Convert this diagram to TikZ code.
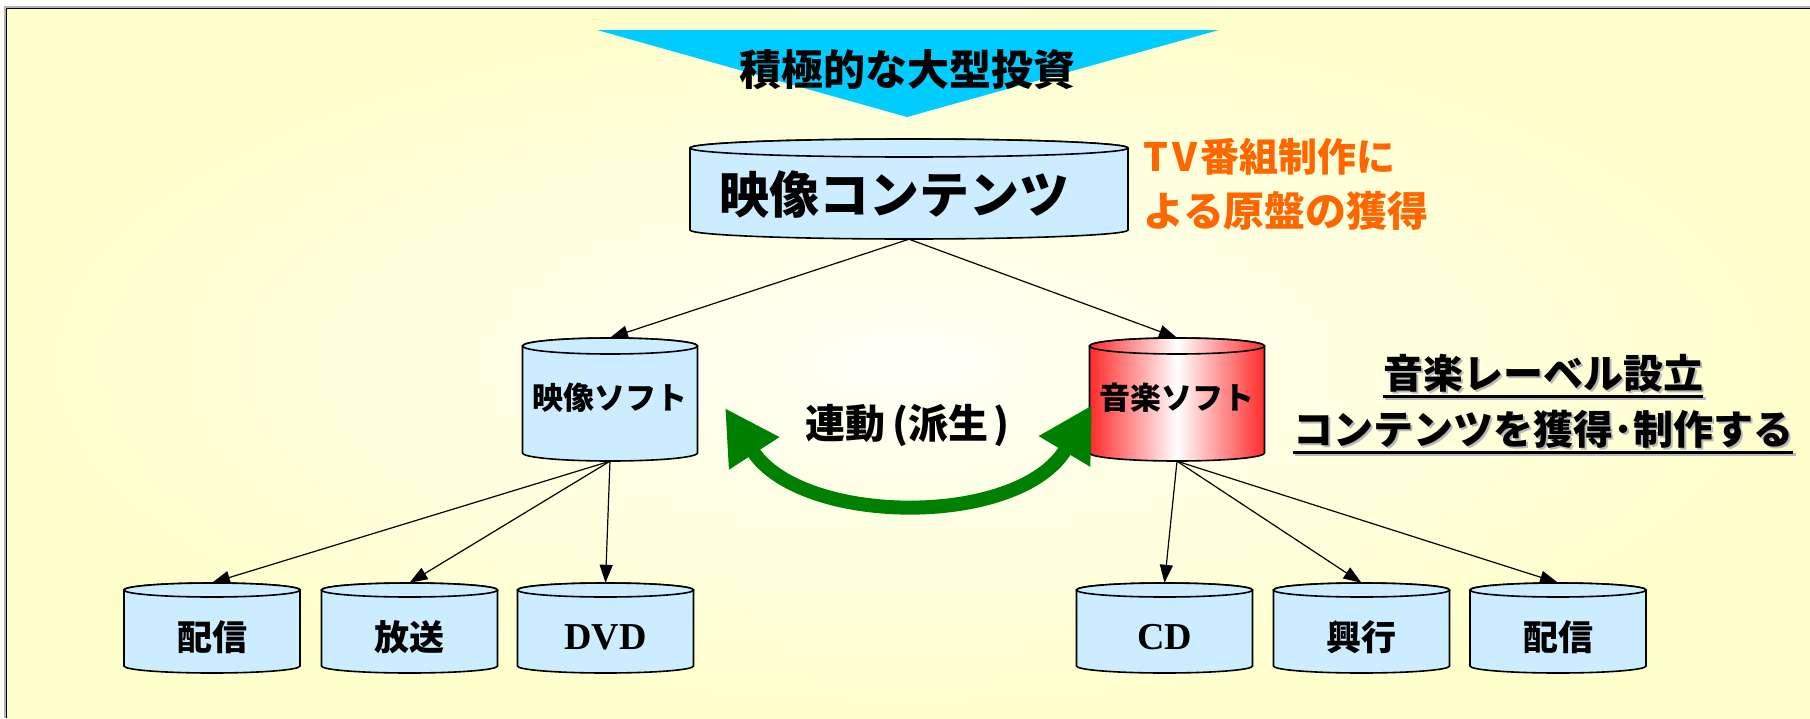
\documentclass[tikz,border=0pt]{standalone}
\usepackage{fontspec}
\newfontfamily\jp{Noto Sans CJK JP}
\newfontfamily\serifb{Liberation Serif}
\usetikzlibrary{arrows.meta}
\definecolor{bgyellow}{HTML}{FFFFCC}
\definecolor{bgcenter}{HTML}{FFFFF6}
\definecolor{cylblue}{HTML}{CCECFF}
\definecolor{tricyan}{HTML}{00CCFF}
\definecolor{darkgreen}{HTML}{008000}
\definecolor{orangetxt}{HTML}{FF6600}
\definecolor{redcyl}{HTML}{FF2A2A}
\tikzset{
  cylline/.style={draw=black, line width=1.6pt},
  bluefill/.style={fill=cylblue},
  redfill/.style={left color=redcyl, right color=redcyl, middle color=white},
  cyltext/.style={inner sep=0pt, font=\jp\bfseries},
  conn/.style={-{Triangle[length=18pt,width=13pt]}, line width=1.2pt},
  bigtext/.style={inner sep=0pt, font=\jp\bfseries\fontsize{42}{48}\selectfont},
  labeltext/.style={inner sep=0pt, font=\jp\bfseries\fontsize{40}{46}\selectfont},
}
% #1 name, #2 cx, #3 top, #4 bottom, #5 half width, #6 ellipse ry, #7 fill style, #8 text, #9 baseline drop below centre
\newcommand{\cyl}[9]{%
  \path[cylline,#7] ({#2-#5},{-(#3+#6)}) -- ({#2-#5},{-(#4-#6)})
    arc[start angle=180,end angle=360,x radius=#5,y radius=#6]
    -- ({#2+#5},{-(#3+#6)})
    arc[start angle=0,end angle=180,x radius=#5,y radius=#6] -- cycle;
  \path[cylline,#7] ({#2},{-(#3+#6)}) ellipse[x radius=#5,y radius=#6];
  \node[cyltext, minimum width={2*#5}, minimum height={#4-#3}] (#1) at ({#2},{-(#3+#4)/2}) {\raisebox{-#9pt}[0pt][0pt]{#8}};
}
\begin{document}
\begin{tikzpicture}[x=1pt,y=1pt]
\useasboundingbox (0,0) rectangle (1810,-718);
\fill[white] (0,0) rectangle (1810,-718);
\shade[inner color=bgcenter, outer color=bgyellow] (6,-8) rectangle (1810,-718);
\draw[gray!60, line width=2pt] (4.5,-718) -- (4.5,-6.5) -- (1810,-6.5);
\draw[black, line width=1.6pt] (6.5,-718) -- (6.5,-8.5) -- (1810,-8.5);

% investment triangle
\fill[tricyan] (597,-30) -- (1219,-30) -- (907,-117) -- cycle;
\node[bigtext] (invest) at (907,-70) {積極的な大型投資};

% cylinders
\cyl{content}{909}{139}{239}{219}{9}{bluefill}{\fontsize{50}{56}\selectfont\hspace*{-30pt}映像コンテンツ}{24}
\cyl{vsoft}{610}{338}{461}{87.5}{8}{bluefill}{\fontsize{31}{36}\selectfont 映像ソフト}{10}
\cyl{msoft}{1177}{338}{461}{87.5}{8}{redfill}{\fontsize{31}{36}\selectfont 音楽ソフト}{10}
\cyl{haishinA}{212}{583}{673}{88}{7}{bluefill}{\fontsize{35}{40}\selectfont 配信}{22}
\cyl{hoso}{409.5}{583}{673}{88}{7}{bluefill}{\fontsize{35}{40}\selectfont 放送}{22}
\cyl{dvd}{605.5}{583}{673}{88}{7}{bluefill}{\serifb\fontsize{38}{42}\selectfont DVD}{21}
\cyl{cd}{1164.5}{583}{673}{88}{7}{bluefill}{\serifb\fontsize{38}{42}\selectfont CD}{21}
\cyl{kogyo}{1361.5}{583}{673}{88}{7}{bluefill}{\fontsize{35}{40}\selectfont 興行}{22}
\cyl{haishinB}{1558}{583}{673}{88}{7}{bluefill}{\fontsize{35}{40}\selectfont 配信}{22}

% connectors
\draw[conn] (content.south) -- (vsoft.north);
\draw[conn] (content.south) -- (msoft.north);
\draw[conn] (vsoft.south) -- (haishinA.north);
\draw[conn] (vsoft.south) -- (hoso.north);
\draw[conn] (vsoft.south) -- (dvd.north);
\draw[conn] (msoft.south) -- (cd.north);
\draw[conn] (msoft.south) -- (kogyo.north);
\draw[conn] (msoft.south) -- (haishinB.north);

% green double arrow
\coordinate (gl) at (725,-408);
\coordinate (gr) at (1092,-405);
\draw[darkgreen, line width=14pt, {Triangle[length=54pt,width=56pt]}-{Triangle[length=54pt,width=56pt]}]
  (gl) .. controls (801,-526) and (1019,-528) .. (gr);
\node[labeltext] (rendo) at (907,-425) {連動\hspace{7pt}(派生\hspace{5pt})};

% orange note
\node[inner sep=0pt, anchor=west, align=left, text=orangetxt,
      font=\jp\bfseries\fontsize{41}{55}\selectfont] (tvnote) at (1143,-184)
  {{\fontsize{39}{55}\selectfont T\hspace{4pt}V\hspace{3pt}番組制作に}\\よる原盤の獲得};

% label text with shadow and underline
\node[labeltext, text=gray!55] (labelAs) at (1545.5,-375.5) {音楽レーベル設立};
\draw[gray!55, line width=3pt] ([yshift=-4pt]labelAs.south west) -- ([yshift=-4pt]labelAs.south east);
\node[labeltext] (labelA) at (1543,-373) {音楽レーベル設立};
\draw[black, line width=3pt] ([yshift=-4pt]labelA.south west) -- ([yshift=-4pt]labelA.south east);

\node[labeltext, text=gray!55] (labelBs) at (1545.5,-431.5) {コンテンツを獲得･制作する};
\draw[gray!55, line width=3pt] ([yshift=-4pt]labelBs.south west) -- ([yshift=-4pt]labelBs.south east);
\node[labeltext] (labelB) at (1543,-429) {コンテンツを獲得･制作する};
\draw[black, line width=3pt] ([yshift=-4pt]labelB.south west) -- ([yshift=-4pt]labelB.south east);
\end{tikzpicture}
\end{document}
